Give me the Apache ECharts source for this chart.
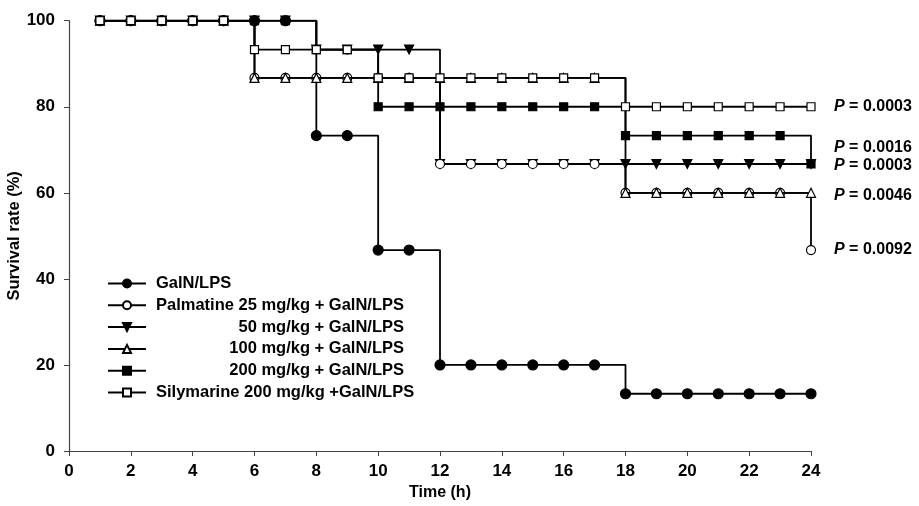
<!DOCTYPE html>
<html>
<head>
<meta charset="utf-8">
<script src="https://cdn.jsdelivr.net/npm/echarts@6/dist/echarts.min.js"></script>
<style>
html,body{margin:0;padding:0;background:#fff;}
#chart{width:919px;height:506px;}
</style>
</head>
<body>
<div id="chart"></div>
<script>
const hours = [1,2,3,4,5,6,7,8,9,10,11,12,13,14,15,16,17,18,19,20,21,22,23,24];
const seriesNames = [
  'GalN/LPS',
  'Palmatine 25 mg/kg + GalN/LPS',
  '50 mg/kg + GalN/LPS',
  '100 mg/kg + GalN/LPS',
  '200 mg/kg + GalN/LPS',
  'Silymarine 200 mg/kg +GalN/LPS'
];
const galn    = [100,100,100,100,100,100,100,73.3,73.3,46.7,46.7,20,20,20,20,20,20,13.3,13.3,13.3,13.3,13.3,13.3,13.3];
const palm25  = [100,100,100,100,100,86.7,86.7,86.7,86.7,86.7,86.7,66.7,66.7,66.7,66.7,66.7,66.7,60,60,60,60,60,60,46.7];
const palm50  = [100,100,100,100,100,100,100,93.3,93.3,93.3,93.3,66.7,66.7,66.7,66.7,66.7,66.7,66.7,66.7,66.7,66.7,66.7,66.7,66.7];
const palm100 = [100,100,100,100,100,86.7,86.7,86.7,86.7,86.7,86.7,86.7,86.7,86.7,86.7,86.7,86.7,60,60,60,60,60,60,60];
const palm200 = [100,100,100,100,100,100,100,93.3,93.3,80,80,80,80,80,80,80,80,73.3,73.3,73.3,73.3,73.3,73.3,66.7];
const sily    = [100,100,100,100,100,93.3,93.3,93.3,93.3,86.7,86.7,86.7,86.7,86.7,86.7,86.7,86.7,80,80,80,80,80,80,80];
const pValues = ['0.0003','0.0016','0.0003','0.0046','0.0092'];
const xTicks = [0,2,4,6,8,10,12,14,16,18,20,22,24];
const yTicks = [0,20,40,60,80,100];

const FONT = '"Liberation Sans", Arial, sans-serif';
const pair = arr => hours.map((h, i) => [h, arr[i]]);

function mk(name, data, symbol, size, fill, z, pLabel, off) {
  const s = {
    name: name,
    type: 'line',
    step: 'end',
    data: pair(data),
    symbol: symbol,
    symbolSize: size,
    showAllSymbol: true,
    z: z,
    lineStyle: {color: '#000', width: 1.8},
    itemStyle: {color: fill, borderColor: '#000', borderWidth: 1.2},
    emphasis: {disabled: true},
    animation: false
  };
  if (pLabel) {
    s.endLabel = {
      show: true,
      formatter: '{i|P} = ' + pLabel,
      distance: 23,
      offset: off,
      fontFamily: FONT,
      fontWeight: 'bold',
      fontSize: 16,
      color: '#000',
      rich: {i: {fontStyle: 'italic', fontWeight: 'bold', fontSize: 16, fontFamily: FONT, color: '#000'}}
    };
  }
  return s;
}

const series = [
  mk(seriesNames[0], galn, 'circle', 10, '#000', 2, null),
  mk(seriesNames[2], palm50, 'triangle', 9, '#000', 3, pValues[2], [0, 2]),
  mk(seriesNames[1], palm25, 'circle', 9, '#fff', 4, pValues[4], [0, 0]),
  mk(seriesNames[3], palm100, 'triangle', 9, '#fff', 5, pValues[3], [0, 3]),
  mk(seriesNames[4], palm200, 'rect', 8, '#000', 6, pValues[1], [0, -16]),
  mk(seriesNames[5], sily, 'rect', 8, '#fff', 7, pValues[0], [0, 0])
];
series[1].symbolRotate = 180;

const chart = echarts.init(document.getElementById('chart'), null, {renderer: 'canvas'});
chart.setOption({
  backgroundColor: '#fff',
  animation: false,
  grid: {left: 69, right: 108, top: 20.7, bottom: 55, containLabel: false, outerBoundsMode: 'none'},
  legend: {
    data: seriesNames,
    orient: 'vertical',
    left: 102,
    top: 270,
    itemWidth: 38,
    itemHeight: 10,
    itemGap: 4.8,
    selectedMode: false,
    formatter: function (name) {
      if (name === seriesNames[2] || name === seriesNames[3] || name === seriesNames[4]) {
        return '{r|' + name + '}';
      }
      return '{l|' + name + '}';
    },
    textStyle: {
      fontFamily: FONT, fontWeight: 'bold', fontSize: 16.5, color: '#000',
      rich: {
        l: {padding: [0, 0, 0, 5], fontFamily: FONT, fontWeight: 'bold', fontSize: 16.5, color: '#000'},
        r: {width: 248, padding: [0, 0, 0, 5], align: 'right', fontFamily: FONT, fontWeight: 'bold', fontSize: 16.5, color: '#000'}
      }
    }
  },
  xAxis: {
    type: 'value',
    min: 0, max: 24, interval: 2,
    name: 'Time (h)',
    nameLocation: 'middle',
    nameGap: 34,
    nameMoveOverlap: false,
    nameTextStyle: {fontFamily: FONT, fontWeight: 'bold', fontSize: 16, color: '#000'},
    axisLine: {lineStyle: {color: '#444', width: 1.2}},
    axisTick: {show: true, length: 5, lineStyle: {color: '#444'}},
    splitLine: {show: false},
    axisLabel: {
      fontFamily: FONT, fontWeight: 'bold', fontSize: 17, color: '#000', margin: 12,
      formatter: v => xTicks.includes(v) ? String(v) : ''
    }
  },
  yAxis: {
    type: 'value',
    min: 0, max: 100, interval: 20,
    name: 'Survival rate (%)',
    nameLocation: 'middle',
    nameGap: 46,
    nameMoveOverlap: false,
    nameTextStyle: {fontFamily: FONT, fontWeight: 'bold', fontSize: 16.5, color: '#000'},
    axisLine: {show: true, lineStyle: {color: '#444', width: 1.2}},
    axisTick: {show: true, length: 5, lineStyle: {color: '#444'}},
    splitLine: {show: false},
    axisLabel: {
      fontFamily: FONT, fontWeight: 'bold', fontSize: 17, color: '#000', margin: 14,
      formatter: v => yTicks.includes(v) ? String(v) : ''
    }
  },
  series: series
});
</script>
</body>
</html>
